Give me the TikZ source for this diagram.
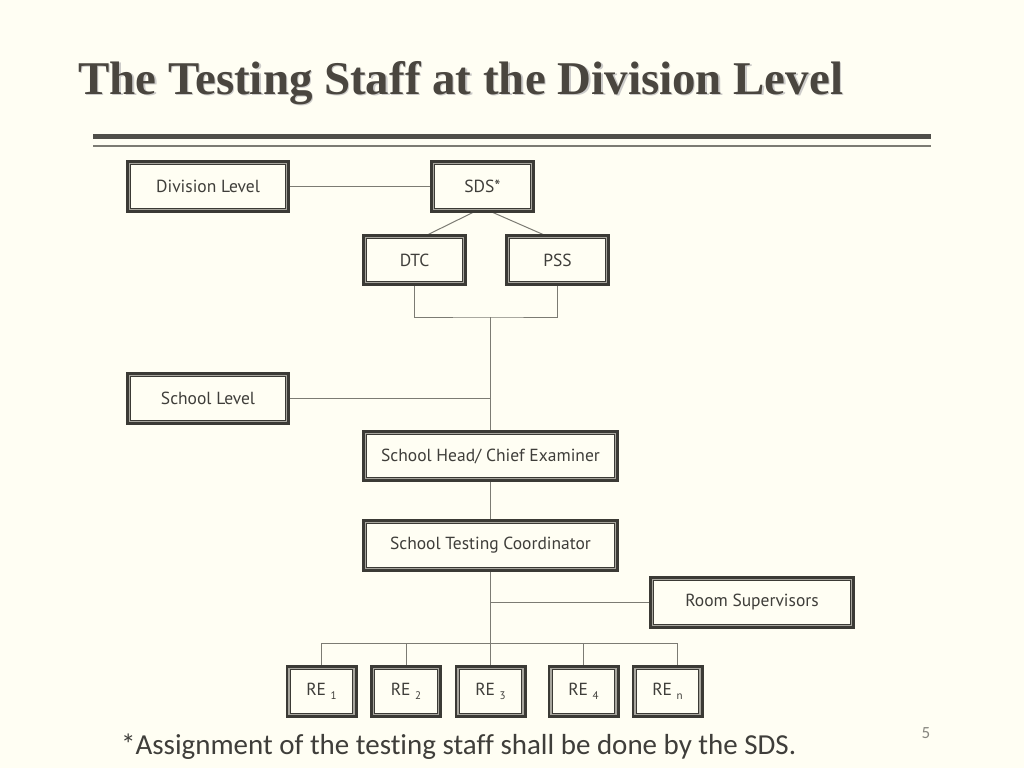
\documentclass[tikz,border=0pt]{standalone}
\usepackage{fontspec}
\setmainfont{Liberation Serif}
\newfontfamily\boxfont{PT Sans}
\newfontfamily\notefont[Ligatures=NoCommon]{Carlito}
\usetikzlibrary{calc,positioning}
\pgfdeclarelayer{bglayer}
\pgfsetlayers{bglayer,main}
\definecolor{bgc}{HTML}{FFFEF3}
\definecolor{dark}{HTML}{3B3A35}
\definecolor{midg}{HTML}{A8A69E}
\definecolor{linec}{HTML}{7C7B73}
\definecolor{txt}{HTML}{3F3E3A}
\definecolor{titlec}{HTML}{4A463F}
\tikzset{
  orgbox/.style 2 args={draw=dark, fill=bgc, line width=0.8pt, double=midg, double distance=1.5pt,
    preaction={draw=dark, line width=7.4pt, rounded corners=1.5pt},
    minimum width=#1pt-7.4pt, minimum height=#2pt-7.4pt, inner sep=0pt,
    font=\boxfont\fontsize{17.5}{20}\selectfont, text=txt},
  conn/.style={draw=linec, line width=1pt},
}
\newcommand{\resub}[1]{\raisebox{-0.4ex}{\fontsize{11}{12}\selectfont #1}}
\begin{document}
\begin{tikzpicture}[x=1pt,y=-1pt]
\begin{pgfonlayer}{bglayer}
\fill[bgc] (0,0) rectangle (1024,768);
\end{pgfonlayer}
\useasboundingbox (0,0) rectangle (1024,768);
% title
\node[anchor=base west, inner sep=0pt, text=titlec!28, font=\bfseries\fontsize{40}{48}\selectfont] (titleshadow) at (79.5,95.5) {\resizebox{765pt}{!}{The Testing Staff at the Division Level}};
\node[anchor=base west, inner sep=0pt, text=titlec, font=\bfseries\fontsize{40}{48}\selectfont] (title) at (78,94) {\resizebox{765pt}{!}{The Testing Staff at the Division Level}};
% rules
\coordinate (r1a) at (93,136.3); \coordinate (r1b) at (931,136.3);
\coordinate (r2a) at (93,145.7); \coordinate (r2b) at (931,145.7);
\draw[dark!90, line width=4.6pt] (r1a) -- (r1b);
\draw[linec, line width=1.8pt] (r2a) -- (r2b);
% nodes
\node[orgbox={164}{53}] (div) at (208,186.5) {Division Level};
\node[orgbox={105}{53}] (sds) at (482.5,186.5) {SDS*};
\node[orgbox={105}{52}] (dtc) at (414.5,260) {DTC};
\node[orgbox={105}{52}] (pss) at (557.5,260) {PSS};
\node[orgbox={164}{53}] (school) at (208,398.5) {School Level};
\node[orgbox={257}{52}] (head) at (490.5,456) {School Head/ Chief Examiner};
\node[orgbox={257}{53}] (stc) at (490.5,545.5) {School Testing Coordinator};
\node[orgbox={206}{53}] (room) at (752,602.5) {Room Supervisors};
\node[orgbox={72}{53}] (re1) at (321.5,691.5) {RE \resub{1}};
\node[orgbox={72}{53}] (re2) at (406,691.5) {RE \resub{2}};
\node[orgbox={72}{53}] (re3) at (490.5,691.5) {RE \resub{3}};
\node[orgbox={72}{53}] (re4) at (583.5,691.5) {RE \resub{4}};
\node[orgbox={72}{53}] (ren) at (667.5,691.5) {RE \resub{n}};
% footnote and page number
\node[anchor=base west, inner sep=0pt, text=txt, font=\notefont\fontsize{26}{30}\selectfont] (note) at (121,754) {\resizebox{675pt}{!}{*Assignment of the testing staff shall be done by the SDS.}};
\node[text=midg!80!black, font=\notefont\fontsize{17}{20}\selectfont, inner sep=0pt] (pageno) at (926,733) {5};
% connectors
\coordinate (j1) at (490.5,317);
\coordinate (j2) at (490.5,643);
\begin{pgfonlayer}{bglayer}
\draw[conn] (div.east) -- (sds.west);
\draw[conn] ($(sds.south)+(-4,0)$) -- ($(dtc.north)+(8,0)$);
\draw[conn] ($(sds.south)+(4,0)$) -- ($(pss.north)+(-8,0)$);
\draw[conn] (dtc.south) |- (j1) -| (pss.south);
\draw[conn] (j1) -- (head.north);
\draw[conn] (school.east) -- (school.east -| j1);
\draw[conn] (head.south) -- (stc.north);
\draw[conn] (stc.south) -- (j2);
\draw[conn] (room.west) -- (room.west -| j2);
\draw[conn] (re1.north) |- (j2);
\draw[conn] (re2.north) |- (j2);
\draw[conn] (re3.north) -- (j2);
\draw[conn] (re4.north) |- (j2);
\draw[conn] ($(ren.north)+(9.5,0)$) |- (j2);
\end{pgfonlayer}
\end{tikzpicture}
\end{document}
